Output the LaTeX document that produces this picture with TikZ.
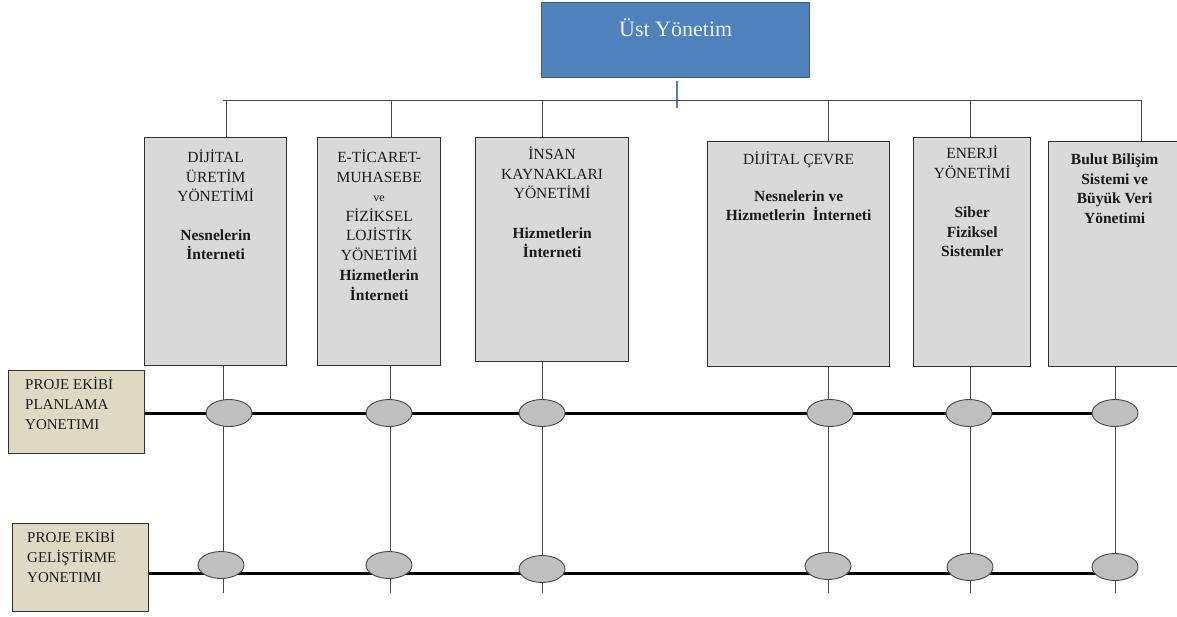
\documentclass[tikz,border=0pt]{standalone}
\usepackage{fontspec}
\setmainfont{Liberation Serif}
\usetikzlibrary{shapes.geometric,calc}
\pgfdeclarelayer{bg}
\pgfsetlayers{bg,main}
\definecolor{topfill}{HTML}{4F81BD}
\definecolor{topdraw}{HTML}{385D8A}
\definecolor{toptext}{HTML}{EEF3FA}
\definecolor{grayfill}{HTML}{D9D9D9}
\definecolor{tanfill}{HTML}{DDD9C3}
\definecolor{edge}{HTML}{303030}
\definecolor{thin}{HTML}{474747}
\definecolor{ellfill}{HTML}{BFBFBF}
\definecolor{txt}{HTML}{1A1A1A}
\tikzset{
  topbox/.style={draw=topdraw,fill=topfill,line width=1.4pt,inner sep=0,anchor=north west},
  graybox/.style={draw=edge,fill=grayfill,line width=1.3pt,inner sep=0,anchor=north west},
  tanbox/.style={draw=edge,fill=tanfill,line width=1.3pt,inner sep=0,anchor=north west},
  boxtext/.style={anchor=north,inner sep=0,align=center,text=txt,font=\fontsize{15.5}{19.5}\selectfont},
  lefttext/.style={anchor=north west,inner sep=0,align=left,text=txt,font=\fontsize{15}{20}\selectfont},
  hub/.style={ellipse,draw=thin,fill=ellfill,line width=0.9pt,minimum width=46pt,minimum height=27pt,inner sep=0},
  thinline/.style={draw=thin,line width=1pt},
  thickline/.style={draw=black,line width=3pt},
  blueline/.style={draw=topfill,line width=1.2pt}
}
\begin{document}
\begin{tikzpicture}[x=1pt,y=-1pt]
\useasboundingbox (0,0) rectangle (1177,616);
\clip (0,0) rectangle (1177,616);

% top box
\node[topbox,minimum width=268pt,minimum height=75pt] (top) at (541,2) {};
\node[anchor=north,inner sep=0,text=toptext,font=\fontsize{22}{26}\selectfont] (toplbl) at ($(top.north)+(0,16)$) {Üst Yönetim};

% department boxes
\node[graybox,minimum width=142pt,minimum height=228pt] (b1) at (144,137) {};
\node[graybox,minimum width=123pt,minimum height=228pt] (b2) at (317,137) {};
\node[graybox,minimum width=153pt,minimum height=224pt] (b3) at (475,137) {};
\node[graybox,minimum width=182pt,minimum height=225pt] (b4) at (707,141) {};
\node[graybox,minimum width=117pt,minimum height=229pt] (b5) at (913,137) {};
\node[graybox,minimum width=132pt,minimum height=225pt] (b6) at (1048,141) {};

\node[boxtext] (t1) at ($(b1.north)+(0,13)$) {DİJİTAL\\ÜRETİM\\YÖNETİMİ\\[19pt]\textbf{Nesnelerin}\\\textbf{İnterneti}};
\node[boxtext] (t2) at ($(b2.north)+(0,13)$) {E-TİCARET-\\MUHASEBE\\{\fontsize{12}{19.5}\selectfont ve}\\FİZİKSEL\\LOJİSTİK\\YÖNETİMİ\\[1pt]\textbf{Hizmetlerin}\\\textbf{İnterneti}};
\node[boxtext] (t3) at ($(b3.north)+(0,10)$) {İNSAN\\KAYNAKLARI\\YÖNETİMİ\\[20pt]\textbf{Hizmetlerin}\\\textbf{İnterneti}};
\node[boxtext] (t4) at ($(b4.north)+(0,11)$) {DİJİTAL ÇEVRE\\[17pt]\textbf{Nesnelerin ve}\\\textbf{Hizmetlerin\ \ İnterneti}};
\node[boxtext] (t5) at ($(b5.north)+(0,9)$) {ENERJİ\\YÖNETİMİ\\[20pt]\textbf{Siber}\\\textbf{Fiziksel}\\\textbf{Sistemler}};
\node[boxtext] (t6) at ($(b6.north)+(0,13)$) {\textbf{Bulut Bilişim}\\\textbf{Sistemi ve}\\\textbf{Büyük Veri}\\\textbf{Yönetimi}};

% project team boxes
\node[tanbox,minimum width=136pt,minimum height=83pt] (p1) at (8,370) {};
\node[tanbox,minimum width=136pt,minimum height=88pt] (p2) at (12,523) {};
\node[lefttext] (pt1) at ($(p1.north west)+(17,7)$) {PROJE EKİBİ\\PLANLAMA\\YONETIMI};
\node[lefttext] (pt2) at ($(p2.north west)+(15,7)$) {PROJE EKİBİ\\GELİŞTİRME\\YONETIMI};

% hubs
\node[hub] (e11) at (229,413) {};
\node[hub] (e12) at (389,413) {};
\node[hub] (e13) at (542,413) {};
\node[hub] (e14) at (830,413) {};
\node[hub] (e15) at (969,413) {};
\node[hub] (e16) at (1115,413) {};
\node[hub] (e21) at (221,565) {};
\node[hub] (e22) at (389,565) {};
\node[hub] (e23) at (542,569) {};
\node[hub] (e24) at (828,566) {};
\node[hub] (e25) at (970,567) {};
\node[hub] (e26) at (1115,567) {};

% coordinates
\coordinate (tj) at (677,108);
\coordinate (hl) at (223,100);
\coordinate (hr) at (1141,100);
\coordinate (x1) at (226,100);
\coordinate (x2) at (391,100);
\coordinate (x3) at (542,100);
\coordinate (x4) at (828,100);
\coordinate (x5) at (970,100);
\coordinate (x6) at (1141,100);
\coordinate (d1) at (223,593);
\coordinate (d2) at (390,593);
\coordinate (d3) at (542,593);
\coordinate (d4) at (828,593);
\coordinate (d5) at (970,593);
\coordinate (d6) at (1115,593);
\coordinate (r2) at (145,573);

\begin{pgfonlayer}{bg}
  % top connectors
  \draw[blueline] ($(tj |- top.south)+(0,3)$) -- (tj);
  \draw[thinline] (hl) -- (hr);
  \foreach \i in {1,...,6} {
    \draw[thinline] (x\i) -- (x\i |- b\i.north);
    \draw[thinline] (d\i |- b\i.south) -- (d\i);
  }
  % thick team lines
  \draw[thickline] (p1.east |- e11) -- (e16.east);
  \draw[thickline] (r2) -- (r2 -| e26);
\end{pgfonlayer}
\end{tikzpicture}
\end{document}
